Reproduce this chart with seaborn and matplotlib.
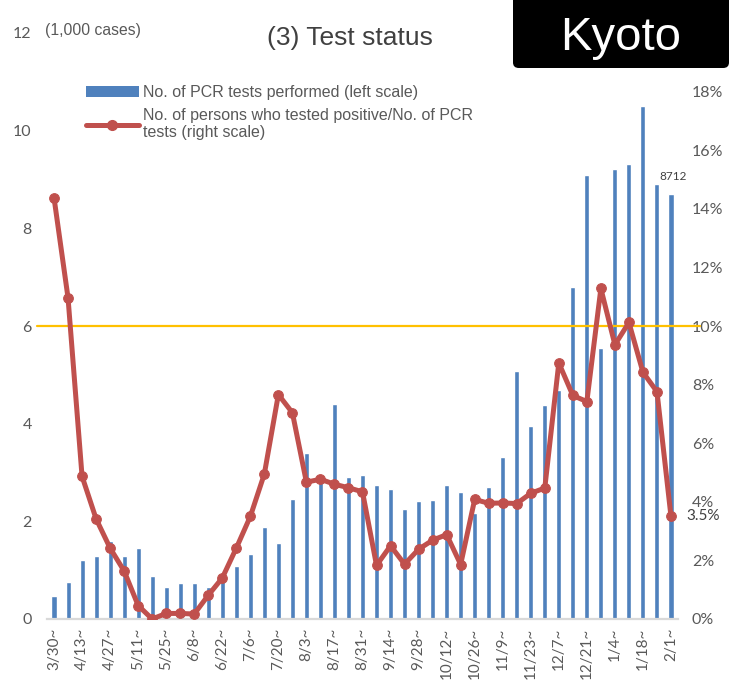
import numpy as np
import pandas as pd
import matplotlib
matplotlib.use("Agg")
import matplotlib.pyplot as plt
from matplotlib.patches import FancyBboxPatch, Patch
from matplotlib.lines import Line2D
import seaborn as sns

# Weekly PCR testing figures for Kyoto
weeks = ["3/30", "4/6", "4/13", "4/20", "4/27", "5/4", "5/11", "5/18", "5/25",
         "6/1", "6/8", "6/15", "6/22", "6/29", "7/6", "7/13", "7/20", "7/27",
         "8/3", "8/10", "8/17", "8/24", "8/31", "9/7", "9/14", "9/21", "9/28",
         "10/5", "10/12", "10/19", "10/26", "11/2", "11/9", "11/16", "11/23",
         "11/30", "12/7", "12/14", "12/21", "12/28", "1/4", "1/11", "1/18",
         "1/25", "2/1"]

# PCR tests performed per week (thousands)
tests = [0.47, 0.76, 1.20, 1.28, 1.59, 1.30, 1.45, 0.89, 0.66,
         0.73, 0.73, 0.66, 0.78, 1.09, 1.33, 1.88, 1.56, 2.46,
         3.39, 2.85, 4.40, 2.91, 2.95, 2.74, 2.67, 2.25, 2.42,
         2.44, 2.74, 2.60, 2.17, 2.70, 3.32, 5.08, 3.96,
         4.39, 4.68, 6.79, 9.10, 5.54, 9.21, 9.32, 10.50,
         8.91, 8.712]

# Positive rate (%)
positive_rate = [14.38, 10.96, 4.87, 3.42, 2.42, 1.64, 0.46, 0.0, 0.19,
                 0.19, 0.17, 0.81, 1.40, 2.42, 3.50, 4.95, 7.66, 7.04,
                 4.67, 4.77, 4.60, 4.48, 4.34, 1.83, 2.50, 1.87, 2.38,
                 2.69, 2.88, 1.86, 4.08, 3.95, 3.96, 3.94, 4.29,
                 4.47, 8.74, 7.63, 7.42, 11.28, 9.36, 10.12, 8.42,
                 7.76, 3.5]

left_ticks = [0, 2, 4, 6, 8, 10, 12]
right_ticks = [0, 2, 4, 6, 8, 10, 12, 14, 16, 18]
threshold_rate = 10  # reference line (%)

bar_label = "No. of PCR tests performed (left scale)"
line_label = "No. of persons who tested positive/No. of PCR\ntests (right scale)"

BLUE = "#4F81BD"
RED = "#C0504D"
GOLD = "#FFC000"
GRAY = "#595959"

sns.set_theme(style="white")
plt.rcParams["font.family"] = ["Liberation Sans", "DejaVu Sans"]

df = pd.DataFrame({"week": weeks, "tests": tests,
                   "rate": np.array(positive_rate) / 100.0,
                   "pos": np.arange(len(weeks))})

fig = plt.figure(figsize=(7.29, 6.91), dpi=100)
ax = fig.add_axes([47 / 729, 1 - 619 / 691, 631 / 729, (619 - 33) / 691])

sns.barplot(data=df, x="week", y="tests", color=BLUE, saturation=1,
            width=0.36, ax=ax, order=weeks)
ax.set_xlim(-0.5, len(weeks) - 0.5)
ax.set_ylim(0, 12)
ax.set_yticks(left_ticks)
ax.set_yticklabels([str(t) for t in left_ticks], family="Lato", fontsize=11.5, color=GRAY)
ax.set_xticks(range(0, len(weeks), 2))
ax.set_xticklabels([weeks[i] + "~" for i in range(0, len(weeks), 2)],
                   rotation=90, family="Lato", fontsize=11, color=GRAY,
                   ha="center", va="top")
ax.set_xlabel("")
ax.set_ylabel("")
ax.tick_params(axis="both", length=0)
ax.tick_params(axis="y", pad=11)
ax.tick_params(axis="x", pad=6)
for s in ["top", "right", "left"]:
    ax.spines[s].set_visible(False)
ax.spines["bottom"].set_color("#D9D9D9")
ax.spines["bottom"].set_linewidth(1.6)

ax2 = ax.twinx()
sns.lineplot(data=df, x="pos", y="rate", ax=ax2, color=RED, linewidth=3.6,
             marker="o", markersize=7, markeredgecolor=RED, zorder=4)
ax2.set_ylim(0, 0.20)
ax2.set_yticks([t / 100 for t in right_ticks])
ax2.set_yticklabels([f"{t}%" for t in right_ticks], family="Lato", fontsize=11.5, color=GRAY)
ax2.tick_params(axis="y", length=0, pad=10)
ax2.set_ylabel("")
ax2.set_xlabel("")
for s in ["top", "right", "left", "bottom"]:
    ax2.spines[s].set_visible(False)

# 10% reference line
ax2.axhline(threshold_rate / 100, xmin=-0.016, xmax=1.035, color=GOLD,
            linewidth=1.6, clip_on=False, zorder=3)

# value labels for the latest week
ax.text(len(weeks) - 1 + 0.15, tests[-1] + 0.24, f"{int(round(tests[-1] * 1000))}",
        ha="center", va="bottom", fontsize=8.5, color="#404040", family="Lato")
ax2.text(len(weeks) - 1 + 1.1, positive_rate[-1] / 100, f"{positive_rate[-1]}%",
         ha="left", va="center", fontsize=11, color="#404040", family="Lato",
         clip_on=False)

# titles
fig.text(350 / 729, 1 - 38 / 691, "(3) Test status", ha="center", va="center",
         fontsize=19, color="#404040")
fig.text(45 / 729, 1 - 31 / 691, "(1,000 cases)", ha="left", va="center",
         fontsize=11.3, color=GRAY)

# legend
handles = [Patch(facecolor=BLUE, edgecolor="none", label=bar_label),
           Line2D([0], [0], color=RED, linewidth=3.6, marker="o", markersize=7,
                  label=line_label)]
leg = fig.legend(handles=handles, loc="upper left",
                 bbox_to_anchor=(78 / 729, 1 - 77 / 691), frameon=False,
                 fontsize=11.5, handlelength=3.3, handletextpad=0.3,
                 borderpad=0, labelspacing=0.5)
for t in leg.get_texts():
    t.set_color(GRAY)

# prefecture name box
box = FancyBboxPatch((513 / 729, 1 - 68 / 691), 216 / 729, 0.2,
                     boxstyle="round,pad=0,rounding_size=0.008",
                     transform=fig.transFigure, facecolor="black",
                     edgecolor="none", zorder=10)
fig.patches.append(box)
fig.text(621 / 729, 1 - 38 / 691, "Kyoto", ha="center", va="center",
         fontsize=34, color="white", zorder=11)

fig.savefig("out.png", dpi=100)
